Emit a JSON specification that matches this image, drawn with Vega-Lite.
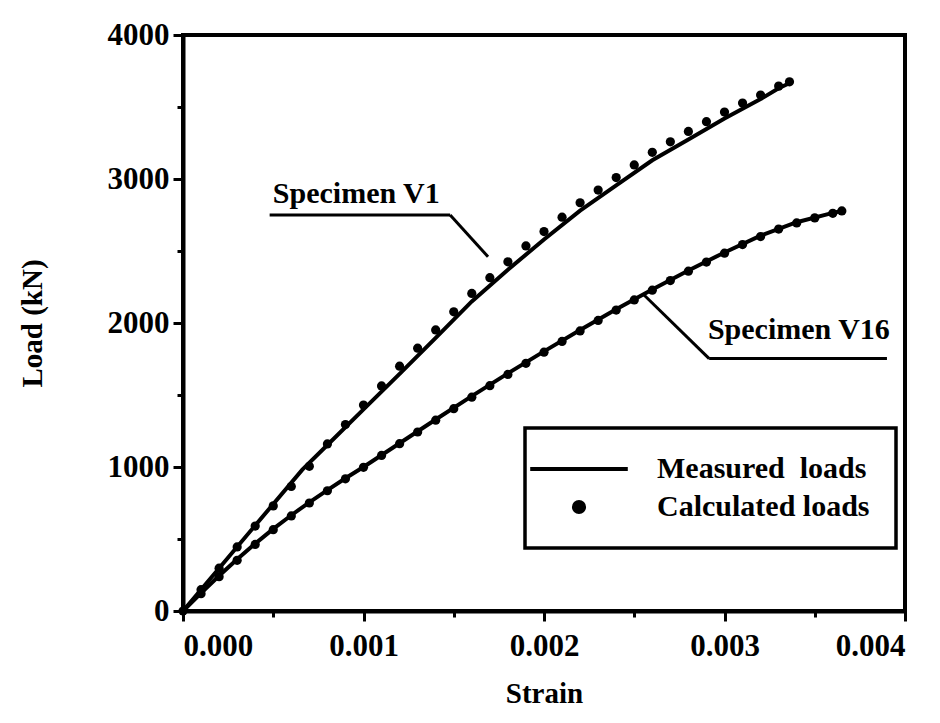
{
  "$schema": "https://vega.github.io/schema/vega-lite/v6.json",
  "autosize": {"type": "none"},
  "width": 722,
  "height": 576,
  "padding": {"left": 183, "top": 35, "right": 35, "bottom": 112},
  "background": "white",
  "config": {
    "font": "Liberation Serif",
    "view": {"stroke": "black", "strokeWidth": 4},
    "legend": {"strokeWidth": 3.5},
    "axis": {
      "grid": false,
      "domainColor": "black",
      "domainWidth": 4,
      "tickColor": "black",
      "tickWidth": 3,
      "labelFont": "Liberation Serif",
      "labelFontWeight": "bold",
      "labelFontSize": 31,
      "labelColor": "black",
      "titleFont": "Liberation Serif",
      "titleFontWeight": "bold",
      "titleFontSize": 29,
      "titleColor": "black"
    }
  },
  "datasets": {
    "measured": [
      {"specimen": "V1", "strain": 0.0, "load": 0},
      {"specimen": "V1", "strain": 0.0002, "load": 297},
      {"specimen": "V1", "strain": 0.0004, "load": 594},
      {"specimen": "V1", "strain": 0.00066, "load": 980},
      {"specimen": "V1", "strain": 0.0008, "load": 1153},
      {"specimen": "V1", "strain": 0.001, "load": 1400},
      {"specimen": "V1", "strain": 0.0012, "load": 1647},
      {"specimen": "V1", "strain": 0.0014, "load": 1897},
      {"specimen": "V1", "strain": 0.0016, "load": 2150},
      {"specimen": "V1", "strain": 0.0018, "load": 2370},
      {"specimen": "V1", "strain": 0.002, "load": 2580},
      {"specimen": "V1", "strain": 0.0022, "load": 2780},
      {"specimen": "V1", "strain": 0.0024, "load": 2955},
      {"specimen": "V1", "strain": 0.0026, "load": 3130},
      {"specimen": "V1", "strain": 0.0028, "load": 3275},
      {"specimen": "V1", "strain": 0.003, "load": 3420},
      {"specimen": "V1", "strain": 0.0032, "load": 3555},
      {"specimen": "V1", "strain": 0.0033, "load": 3630},
      {"specimen": "V1", "strain": 0.00335, "load": 3660},
      {"specimen": "V16", "strain": 0.0, "load": 0},
      {"specimen": "V16", "strain": 0.0001, "load": 125},
      {"specimen": "V16", "strain": 0.0002, "load": 245},
      {"specimen": "V16", "strain": 0.0003, "load": 360},
      {"specimen": "V16", "strain": 0.0004, "load": 468},
      {"specimen": "V16", "strain": 0.0005, "load": 570},
      {"specimen": "V16", "strain": 0.0006, "load": 665},
      {"specimen": "V16", "strain": 0.0007, "load": 755},
      {"specimen": "V16", "strain": 0.0008, "load": 840},
      {"specimen": "V16", "strain": 0.0009, "load": 922},
      {"specimen": "V16", "strain": 0.001, "load": 1000},
      {"specimen": "V16", "strain": 0.0012, "load": 1165},
      {"specimen": "V16", "strain": 0.0014, "load": 1330},
      {"specimen": "V16", "strain": 0.0016, "load": 1492},
      {"specimen": "V16", "strain": 0.0018, "load": 1650},
      {"specimen": "V16", "strain": 0.002, "load": 1803},
      {"specimen": "V16", "strain": 0.0022, "load": 1952},
      {"specimen": "V16", "strain": 0.0024, "load": 2095},
      {"specimen": "V16", "strain": 0.0026, "load": 2233},
      {"specimen": "V16", "strain": 0.0028, "load": 2365},
      {"specimen": "V16", "strain": 0.003, "load": 2490},
      {"specimen": "V16", "strain": 0.0032, "load": 2607},
      {"specimen": "V16", "strain": 0.0034, "load": 2700},
      {"specimen": "V16", "strain": 0.0036, "load": 2765},
      {"specimen": "V16", "strain": 0.00365, "load": 2778}
    ],
    "calculated": [
      {"specimen": "V1", "kind": "Calculated loads", "strain": 0.0, "load": 0},
      {"specimen": "V1", "kind": "Calculated loads", "strain": 0.0001, "load": 148},
      {"specimen": "V1", "kind": "Calculated loads", "strain": 0.0002, "load": 297},
      {"specimen": "V1", "kind": "Calculated loads", "strain": 0.0003, "load": 445},
      {"specimen": "V1", "kind": "Calculated loads", "strain": 0.0004, "load": 590},
      {"specimen": "V1", "kind": "Calculated loads", "strain": 0.0005, "load": 730},
      {"specimen": "V1", "kind": "Calculated loads", "strain": 0.0006, "load": 865},
      {"specimen": "V1", "kind": "Calculated loads", "strain": 0.0007, "load": 1005},
      {"specimen": "V1", "kind": "Calculated loads", "strain": 0.0008, "load": 1160},
      {"specimen": "V1", "kind": "Calculated loads", "strain": 0.0009, "load": 1295},
      {"specimen": "V1", "kind": "Calculated loads", "strain": 0.001, "load": 1430},
      {"specimen": "V1", "kind": "Calculated loads", "strain": 0.0011, "load": 1563},
      {"specimen": "V1", "kind": "Calculated loads", "strain": 0.0012, "load": 1700},
      {"specimen": "V1", "kind": "Calculated loads", "strain": 0.0013, "load": 1825},
      {"specimen": "V1", "kind": "Calculated loads", "strain": 0.0014, "load": 1952},
      {"specimen": "V1", "kind": "Calculated loads", "strain": 0.0015, "load": 2078},
      {"specimen": "V1", "kind": "Calculated loads", "strain": 0.0016, "load": 2205},
      {"specimen": "V1", "kind": "Calculated loads", "strain": 0.0017, "load": 2315},
      {"specimen": "V1", "kind": "Calculated loads", "strain": 0.0018, "load": 2425},
      {"specimen": "V1", "kind": "Calculated loads", "strain": 0.0019, "load": 2535},
      {"specimen": "V1", "kind": "Calculated loads", "strain": 0.002, "load": 2635},
      {"specimen": "V1", "kind": "Calculated loads", "strain": 0.0021, "load": 2735},
      {"specimen": "V1", "kind": "Calculated loads", "strain": 0.0022, "load": 2835},
      {"specimen": "V1", "kind": "Calculated loads", "strain": 0.0023, "load": 2923},
      {"specimen": "V1", "kind": "Calculated loads", "strain": 0.0024, "load": 3010},
      {"specimen": "V1", "kind": "Calculated loads", "strain": 0.0025, "load": 3098},
      {"specimen": "V1", "kind": "Calculated loads", "strain": 0.0026, "load": 3185},
      {"specimen": "V1", "kind": "Calculated loads", "strain": 0.0027, "load": 3258},
      {"specimen": "V1", "kind": "Calculated loads", "strain": 0.0028, "load": 3330},
      {"specimen": "V1", "kind": "Calculated loads", "strain": 0.0029, "load": 3398},
      {"specimen": "V1", "kind": "Calculated loads", "strain": 0.003, "load": 3465},
      {"specimen": "V1", "kind": "Calculated loads", "strain": 0.0031, "load": 3527},
      {"specimen": "V1", "kind": "Calculated loads", "strain": 0.0032, "load": 3583},
      {"specimen": "V1", "kind": "Calculated loads", "strain": 0.0033, "load": 3645},
      {"specimen": "V1", "kind": "Calculated loads", "strain": 0.00336, "load": 3675},
      {"specimen": "V16", "kind": "Calculated loads", "strain": 0.0001, "load": 120},
      {"specimen": "V16", "kind": "Calculated loads", "strain": 0.0002, "load": 238},
      {"specimen": "V16", "kind": "Calculated loads", "strain": 0.0003, "load": 352},
      {"specimen": "V16", "kind": "Calculated loads", "strain": 0.0004, "load": 462},
      {"specimen": "V16", "kind": "Calculated loads", "strain": 0.0005, "load": 565},
      {"specimen": "V16", "kind": "Calculated loads", "strain": 0.0006, "load": 660},
      {"specimen": "V16", "kind": "Calculated loads", "strain": 0.0007, "load": 750},
      {"specimen": "V16", "kind": "Calculated loads", "strain": 0.0008, "load": 835},
      {"specimen": "V16", "kind": "Calculated loads", "strain": 0.0009, "load": 918},
      {"specimen": "V16", "kind": "Calculated loads", "strain": 0.001, "load": 998},
      {"specimen": "V16", "kind": "Calculated loads", "strain": 0.0011, "load": 1080},
      {"specimen": "V16", "kind": "Calculated loads", "strain": 0.0012, "load": 1162},
      {"specimen": "V16", "kind": "Calculated loads", "strain": 0.0013, "load": 1243},
      {"specimen": "V16", "kind": "Calculated loads", "strain": 0.0014, "load": 1325},
      {"specimen": "V16", "kind": "Calculated loads", "strain": 0.0015, "load": 1405},
      {"specimen": "V16", "kind": "Calculated loads", "strain": 0.0016, "load": 1485},
      {"specimen": "V16", "kind": "Calculated loads", "strain": 0.0017, "load": 1565},
      {"specimen": "V16", "kind": "Calculated loads", "strain": 0.0018, "load": 1643},
      {"specimen": "V16", "kind": "Calculated loads", "strain": 0.0019, "load": 1720},
      {"specimen": "V16", "kind": "Calculated loads", "strain": 0.002, "load": 1797},
      {"specimen": "V16", "kind": "Calculated loads", "strain": 0.0021, "load": 1872},
      {"specimen": "V16", "kind": "Calculated loads", "strain": 0.0022, "load": 1945},
      {"specimen": "V16", "kind": "Calculated loads", "strain": 0.0023, "load": 2018},
      {"specimen": "V16", "kind": "Calculated loads", "strain": 0.0024, "load": 2090},
      {"specimen": "V16", "kind": "Calculated loads", "strain": 0.0025, "load": 2160},
      {"specimen": "V16", "kind": "Calculated loads", "strain": 0.0026, "load": 2228},
      {"specimen": "V16", "kind": "Calculated loads", "strain": 0.0027, "load": 2295},
      {"specimen": "V16", "kind": "Calculated loads", "strain": 0.0028, "load": 2360},
      {"specimen": "V16", "kind": "Calculated loads", "strain": 0.0029, "load": 2423},
      {"specimen": "V16", "kind": "Calculated loads", "strain": 0.003, "load": 2485},
      {"specimen": "V16", "kind": "Calculated loads", "strain": 0.0031, "load": 2545},
      {"specimen": "V16", "kind": "Calculated loads", "strain": 0.0032, "load": 2600},
      {"specimen": "V16", "kind": "Calculated loads", "strain": 0.0033, "load": 2652},
      {"specimen": "V16", "kind": "Calculated loads", "strain": 0.0034, "load": 2695},
      {"specimen": "V16", "kind": "Calculated loads", "strain": 0.0035, "load": 2730},
      {"specimen": "V16", "kind": "Calculated loads", "strain": 0.0036, "load": 2762},
      {"specimen": "V16", "kind": "Calculated loads", "strain": 0.00365, "load": 2778}
    ],
    "leaders": [
      {"specimen": "V1", "s1": 0.00048, "l1": 2750, "s2": 0.00148, "l2": 2750},
      {"specimen": "V1", "s1": 0.00148, "l1": 2750, "s2": 0.00169, "l2": 2460},
      {"specimen": "V16", "s1": 0.002915, "l1": 1753, "s2": 0.0039, "l2": 1753},
      {"specimen": "V16", "s1": 0.002915, "l1": 1753, "s2": 0.00255, "l2": 2200}
    ],
    "labels": [
      {"label": "Specimen V1", "strain": 0.00096, "load": 2897},
      {"label": "Specimen V16", "strain": 0.003412, "load": 1949}
    ]
  },
  "layer": [
    {
      "data": {"name": "measured"},
      "mark": {"type": "line", "color": "black", "strokeWidth": 4},
      "encoding": {
        "x": {
          "field": "strain", "type": "quantitative",
          "scale": {"domain": [0, 0.004], "nice": false},
          "axis": {
            "title": "Strain",
            "values": [0, 0.0005, 0.001, 0.0015, 0.002, 0.0025, 0.003, 0.0035, 0.004],
            "format": ".3f",
            "labelExpr": "round(datum.value * 10000) % 10 === 0 ? datum.label : ''",
            "tickSize": {"condition": {"test": "round(datum.value * 10000) % 10 === 0", "value": 10}, "value": 6},
            "labelPadding": 10,
            "titlePadding": 18
          }
        },
        "y": {
          "field": "load", "type": "quantitative",
          "scale": {"domain": [0, 4000], "nice": false},
          "axis": {
            "title": "Load (kN)",
            "values": [0, 500, 1000, 1500, 2000, 2500, 3000, 3500, 4000],
            "format": "d",
            "labelExpr": "datum.value % 1000 === 0 ? datum.label : ''",
            "tickSize": {"condition": {"test": "datum.value % 1000 === 0", "value": 10}, "value": 6},
            "labelPadding": 4,
            "titlePadding": 60
          }
        },
        "detail": {"field": "specimen"},
        "order": {"field": "strain", "type": "quantitative"}
      }
    },
    {
      "data": {"name": "calculated"},
      "mark": {"type": "point", "filled": true, "color": "black", "opacity": 1, "size": 85},
      "encoding": {
        "x": {"field": "strain", "type": "quantitative"},
        "y": {"field": "load", "type": "quantitative"},
        "shape": {
          "field": "kind", "type": "nominal",
          "scale": {"domain": ["Measured\u00a0\u00a0loads", "Calculated loads"], "range": ["M-6.9,-0.3H6.9V0.3H-6.9Z", "circle"]},
          "legend": {
            "title": null,
            "orient": "none",
            "legendX": 342,
            "legendY": 393,
            "strokeColor": "black",
            "fillColor": "white",
            "padding": 26,
            "symbolSize": 200,
            "symbolOffset": 13,
            "labelOffset": 63,
            "rowPadding": 8,
            "symbolFillColor": "black",
            "labelFont": "Liberation Serif",
            "labelFontWeight": "bold",
            "labelFontSize": 30,
            "labelColor": "black",
            "labelLimit": 400
          }
        }
      }
    },
    {
      "data": {"name": "leaders"},
      "mark": {"type": "rule", "color": "black", "strokeWidth": 3},
      "encoding": {
        "x": {"field": "s1", "type": "quantitative"},
        "y": {"field": "l1", "type": "quantitative"},
        "x2": {"field": "s2"},
        "y2": {"field": "l2"}
      }
    },
    {
      "data": {"name": "labels"},
      "mark": {"type": "text", "font": "Liberation Serif", "fontWeight": "bold", "fontSize": 30, "color": "black", "align": "center", "baseline": "middle"},
      "encoding": {
        "x": {"field": "strain", "type": "quantitative"},
        "y": {"field": "load", "type": "quantitative"},
        "text": {"field": "label"}
      }
    }
  ]
}
